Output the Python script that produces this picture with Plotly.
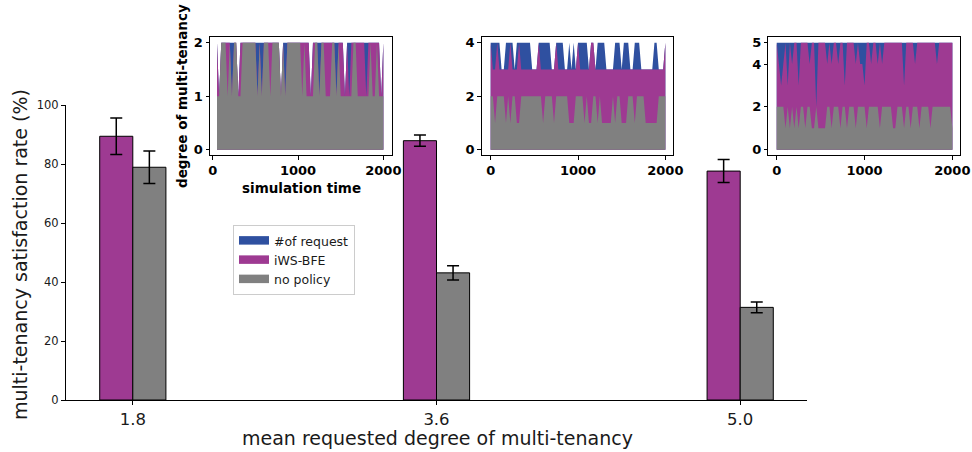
import plotly.graph_objects as go

# ---------------- main bar chart data ----------------
CATEGORIES = ["1.8", "3.6", "5.0"]
IWS_RATE = [89.4, 87.9, 77.6]
IWS_ERR = [6.2, 1.9, 3.9]
NOPOL_RATE = [78.9, 43.1, 31.4]
NOPOL_ERR = [5.5, 2.4, 1.8]

# ---------------- inset time series data ----------------
TIME = [0, 25, 50, 75, 100, 125, 150, 175, 200, 225, 250, 275, 300, 325, 350, 375, 400,
        425, 450, 475, 500, 525, 550, 575, 600, 625, 650, 675, 700, 725, 750, 775, 800,
        825, 850, 875, 900, 925, 950, 975, 1000, 1025, 1050, 1075, 1100, 1125, 1150,
        1175, 1200, 1225, 1250, 1275, 1300, 1325, 1350, 1375, 1400, 1425, 1450, 1475,
        1500, 1525, 1550, 1575, 1600, 1625, 1650, 1675, 1700, 1725, 1750, 1775, 1800,
        1825, 1850, 1875, 1900, 1925, 1950, 1975, 2000]
TIME_1 = TIME[2:]

# inset 1 (mean 1.8)
REQ_1 = [2, 1, 2, 2, 2, 2, 2, 2, 2, 2,
         1, 2, 2, 2, 2, 2, 2, 2, 2, 2,
         2, 2, 2, 2, 2, 2, 2, 2, 2, 2,
         1, 2, 2, 2, 2, 2, 2, 2, 2, 2,
         2, 2, 2, 2, 1, 2, 2, 2, 2, 2,
         2, 2, 2, 2, 2, 2, 2, 2, 2, 2,
         1, 2, 2, 2, 2, 2, 2, 2, 2, 2,
         2, 2, 2, 2, 2, 2, 2, 1, 2]
IWS_1 = [2, 1, 2, 2, 2, 2, 2, 1, 2, 2,
         1, 2, 2, 2, 2, 2, 2, 2, 2, 1,
         2, 1, 2, 2, 2, 2, 2, 2, 2, 2,
         1, 2, 1, 2, 2, 2, 2, 2, 2, 2,
         2, 2, 2, 2, 1, 2, 2, 2, 1, 2,
         2, 2, 2, 2, 2, 2, 1, 2, 2, 2,
         1, 2, 1, 2, 2, 2, 2, 2, 2, 2,
         1, 2, 2, 2, 2, 2, 2, 1, 2]
NOPOL_1 = [1, 1, 2, 2, 2, 1, 2, 1, 2, 2,
           1, 1, 2, 2, 2, 2, 2, 2, 2, 1,
           2, 1, 2, 2, 2, 1, 2, 2, 2, 2,
           1, 2, 1, 2, 2, 2, 2, 2, 2, 2,
           1, 2, 1, 1, 1, 1, 2, 2, 1, 2,
           2, 1, 1, 1, 2, 2, 1, 2, 1, 1,
           1, 1, 1, 1, 2, 2, 1, 1, 1, 1,
           1, 1, 2, 1, 1, 2, 1, 1, 1]

# inset 2 (mean 3.6)
REQ_2 = [4, 4, 4, 4, 4, 3, 3, 4, 4, 4,
         4, 3, 4, 4, 4, 4, 4, 4, 4, 3,
         3, 3, 4, 4, 4, 4, 4, 4, 3, 3,
         4, 4, 4, 4, 3, 3, 4, 3, 4, 3,
         4, 4, 4, 4, 4, 3, 4, 4, 3, 4,
         4, 4, 4, 3, 3, 3, 3, 4, 4, 4,
         3, 4, 4, 4, 3, 3, 4, 4, 4, 3,
         3, 3, 3, 3, 3, 4, 4, 3, 3, 3,
         4]
IWS_2 = [4, 3, 3, 4, 3, 3, 3, 3, 3, 4,
         3, 3, 3, 4, 3, 3, 3, 3, 3, 3,
         3, 3, 4, 3, 3, 3, 3, 3, 3, 3,
         4, 3, 3, 3, 3, 3, 3, 3, 3, 3,
         4, 3, 3, 3, 3, 3, 4, 4, 3, 3,
         3, 3, 3, 3, 3, 3, 3, 3, 3, 3,
         3, 3, 3, 3, 3, 3, 3, 3, 3, 3,
         3, 3, 3, 3, 3, 3, 3, 3, 3, 3,
         4]
NOPOL_2 = [2, 2, 1, 2, 2, 2, 2, 1, 2, 1,
           2, 2, 1, 1, 2, 2, 2, 2, 2, 2,
           2, 2, 2, 2, 1, 2, 2, 2, 2, 1,
           2, 2, 2, 2, 2, 2, 1, 1, 1, 2,
           2, 2, 2, 1, 2, 1, 1, 2, 2, 1,
           2, 1, 1, 1, 1, 1, 2, 1, 2, 2,
           1, 1, 1, 2, 2, 2, 1, 2, 2, 2,
           2, 1, 1, 1, 1, 1, 1, 2, 2, 2,
           2]

# inset 3 (mean 5.0)
REQ_3 = [5, 5, 5, 5, 5, 5, 5, 5, 5, 5,
         5, 5, 5, 5, 5, 5, 5, 5, 5, 5,
         5, 5, 5, 5, 5, 5, 5, 5, 5, 5,
         5, 5, 5, 5, 5, 5, 5, 5, 5, 5,
         5, 5, 5, 5, 5, 5, 5, 5, 5, 5,
         5, 5, 5, 5, 5, 5, 5, 5, 5, 5,
         5, 5, 5, 5, 5, 5, 5, 5, 5, 5,
         5, 5, 5, 5, 5, 5, 5, 5, 5, 5,
         5]
IWS_3 = [5, 4, 3, 4, 5, 3, 5, 4, 5, 5,
         3, 5, 5, 5, 5, 4, 5, 5, 2, 5,
         5, 5, 5, 4, 5, 4, 5, 5, 4, 5,
         5, 3, 5, 5, 5, 5, 4, 5, 4, 4,
         3, 5, 5, 4, 5, 5, 4, 5, 4, 5,
         5, 5, 5, 5, 5, 5, 5, 5, 3, 5,
         5, 5, 5, 4, 5, 5, 5, 5, 5, 5,
         5, 5, 5, 4, 5, 5, 5, 5, 5, 5,
         5]
NOPOL_3 = [2, 2, 2, 2, 1, 2, 1, 2, 1, 2,
           1, 2, 2, 1, 2, 2, 1, 1, 2, 1,
           1, 1, 1, 2, 2, 1, 2, 2, 2, 1,
           2, 2, 1, 2, 2, 2, 1, 2, 2, 2,
           2, 1, 2, 2, 2, 2, 2, 1, 2, 2,
           2, 2, 2, 1, 1, 2, 2, 2, 1, 2,
           2, 1, 2, 2, 2, 1, 2, 2, 2, 2,
           1, 2, 2, 2, 2, 2, 2, 2, 2, 2,
           1]

INSET_YTICKS = [[0, 1, 2], [0, 2, 4], [0, 2, 4, 5]]
LEGEND_NAMES = ["#of request", "iWS-BFE", "no policy"]

# ---------------- styles ----------------
BLUE = "#2f50a0"
PURPLE = "#9e3a92"
GRAY = "#808080"
COLORS = [BLUE, PURPLE, GRAY]
W, H = 972, 452

fig = go.Figure()

# inset fills (blue request, purple iWS-BFE, gray no policy on top)
insets = [
    (TIME_1, REQ_1, IWS_1, NOPOL_1, "x2", "y2"),
    (TIME, REQ_2, IWS_2, NOPOL_2, "x3", "y3"),
    (TIME, REQ_3, IWS_3, NOPOL_3, "x4", "y4"),
]
for n, (t, r, i, p, xa, ya) in enumerate(insets):
    for vals, col, name in zip([r, i, p], COLORS, LEGEND_NAMES):
        fig.add_trace(go.Scatter(
            x=t, y=vals, mode="lines", fill="tozeroy", fillcolor=col,
            line=dict(width=0, color=col), name=name, legendgroup=name,
            showlegend=False, xaxis=xa, yaxis=ya, hoverinfo="skip"))

# legend entries (patch style) for the three series
for col, name in zip(COLORS, LEGEND_NAMES):
    fig.add_trace(go.Scatter(
        x=[None], y=[None], mode="lines", fill="tozeroy", fillcolor=col,
        line=dict(width=5, color=col), name=name, legendgroup=name,
        showlegend=True, xaxis="x2", yaxis="y2", hoverinfo="skip"))

# main bars
pos = list(range(len(CATEGORIES)))
BW = 0.109
fig.add_trace(go.Bar(
    x=pos, y=IWS_RATE, width=BW, offset=-BW, marker=dict(color=PURPLE, line=dict(color="black", width=1)),
    error_y=dict(type="data", array=IWS_ERR, color="black", thickness=1.5, width=6),
    name="iWS-BFE", showlegend=False, xaxis="x", yaxis="y"))
fig.add_trace(go.Bar(
    x=pos, y=NOPOL_RATE, width=BW, offset=0, marker=dict(color=GRAY, line=dict(color="black", width=1)),
    error_y=dict(type="data", array=NOPOL_ERR, color="black", thickness=1.5, width=6),
    name="no policy", showlegend=False, xaxis="x", yaxis="y"))

def px_x(a, b):
    return [a / W, b / W]

def px_y(top, bottom):
    return [(H - bottom) / H, (H - top) / H]

TXT = "#1a1a1a"
layout = dict(
    width=W, height=H, autosize=False,
    margin=dict(l=0, r=0, t=0, b=0, autoexpand=False),
    paper_bgcolor="white", plot_bgcolor="white",
    font=dict(family="DejaVu Sans", color=TXT),
    barmode="overlay",
    xaxis=dict(domain=px_x(66, 807), range=[-0.22, 2.22], tickvals=pos, ticktext=CATEGORIES,
               showline=True, linecolor="black", linewidth=1, ticks="outside", ticklen=4,
               tickcolor="black", showgrid=False, zeroline=False, tickfont=dict(size=16.5),
               automargin=False),
    yaxis=dict(domain=px_y(105, 400), range=[0, 100], tickvals=[0, 20, 40, 60, 80, 100],
               showline=True, linecolor="black", linewidth=1, ticks="outside", ticklen=4,
               tickcolor="black", showgrid=False, zeroline=False, tickfont=dict(size=11.5),
               automargin=False),
    legend=dict(x=233 / W, y=(H - 225) / H, xanchor="left", yanchor="top",
                bgcolor="white", bordercolor="#cccccc", borderwidth=1,
                font=dict(size=12.5, color=TXT), tracegroupgap=0, itemwidth=30),
)

inset_geo = [
    ("xaxis2", "yaxis2", "x2", "y2", px_x(210, 391.7), [-32, 2098], [-0.1, 2.1]),
    ("xaxis3", "yaxis3", "x3", "y3", px_x(481.7, 673.3), [-103, 2091], [-0.2, 4.2]),
    ("xaxis4", "yaxis4", "x4", "y4", px_x(768.3, 960), [-96, 2087], [-0.25, 5.25]),
]
tick_font = dict(size=13, weight="bold", color="black")
ins_font = dict(size=13.5, weight="bold", color="black")
for k, (xn, yn, xa, ya, xd, xr, yr) in enumerate(inset_geo):
    layout[xn] = dict(domain=xd, range=xr, anchor=ya, tickvals=[0, 1000, 2000],
                      showline=True, mirror=True, linecolor="black", linewidth=1,
                      ticks="outside", ticklen=3.5, tickcolor="black",
                      showgrid=False, zeroline=False, tickfont=tick_font, automargin=False)
    layout[yn] = dict(domain=px_y(37.3, 155), range=yr, anchor=xa, tickvals=INSET_YTICKS[k],
                      showline=True, mirror=True, linecolor="black", linewidth=1,
                      ticks="outside", ticklen=3.5, tickcolor="black",
                      showgrid=False, zeroline=False, tickfont=tick_font, automargin=False)

fig.update_layout(**layout)

fig.add_annotation(text="multi-tenancy satisfaction rate (%)", x=20 / W, y=(H - 255) / H,
                   xref="paper", yref="paper", textangle=-90, showarrow=False,
                   font=dict(size=19, color=TXT), xanchor="center", yanchor="middle")
fig.add_annotation(text="mean requested degree of multi-tenancy", x=437 / W, y=(H - 438) / H,
                   xref="paper", yref="paper", showarrow=False,
                   font=dict(size=19, color=TXT), xanchor="center", yanchor="middle")
fig.add_annotation(text="degree of multi-tenancy", x=182 / W, y=(H - 96) / H,
                   xref="paper", yref="paper", textangle=-90, showarrow=False,
                   font=ins_font, xanchor="center", yanchor="middle")
fig.add_annotation(text="simulation time", x=301 / W, y=(H - 188) / H,
                   xref="paper", yref="paper", showarrow=False,
                   font=ins_font, xanchor="center", yanchor="middle")

fig.write_html("out.html", config={"displayModeBar": False},
               post_script="document.body.style.margin='0';")
